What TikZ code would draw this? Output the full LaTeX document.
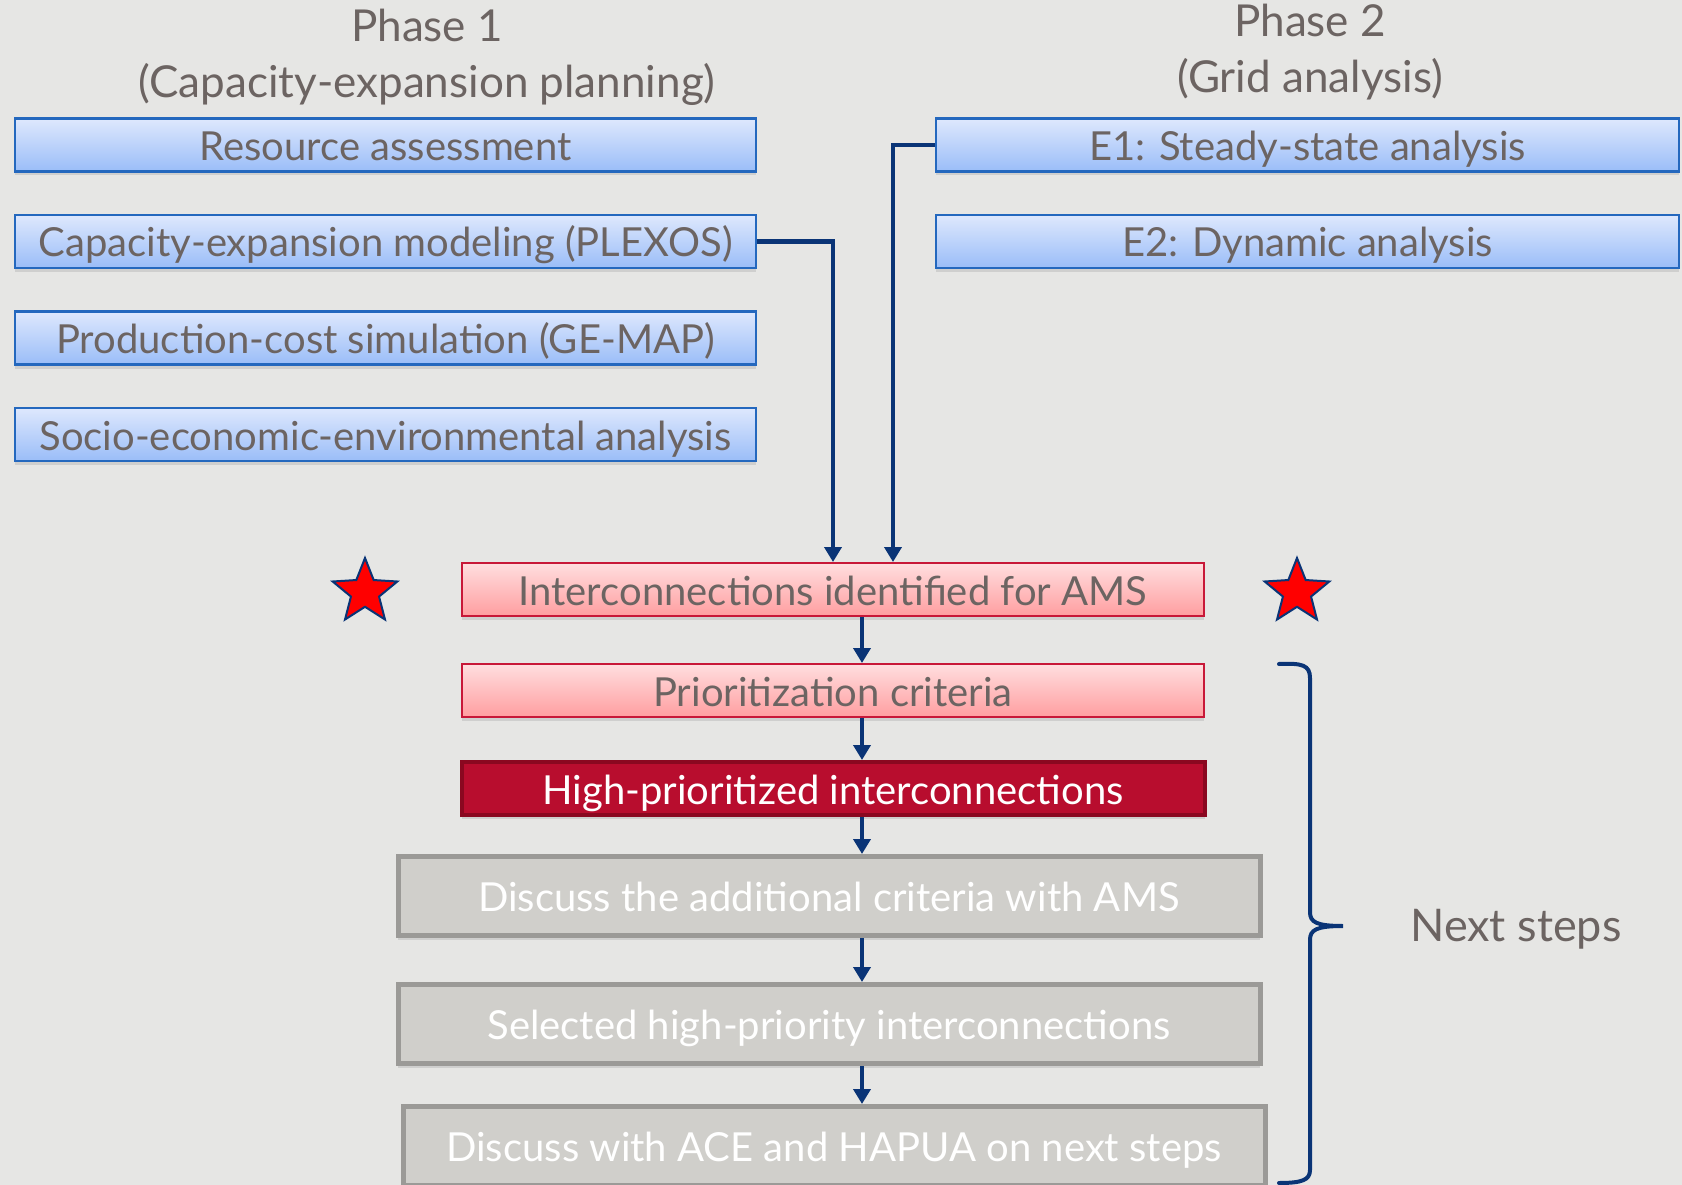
\documentclass[tikz,border=0pt]{standalone}
\usepackage{fontspec}
\setmainfont{Lato}
\usepackage{tikz}
\usetikzlibrary{shapes,arrows.meta,positioning,shadows}

\definecolor{slide}{RGB}{230,230,228}
\definecolor{ink}{RGB}{108,100,98}
\definecolor{navy}{RGB}{10,52,118}
\definecolor{bluetop}{RGB}{222,232,253}
\definecolor{bluebot}{RGB}{154,189,248}
\definecolor{blueline}{RGB}{36,104,190}
\definecolor{pinktop}{RGB}{255,222,223}
\definecolor{pinkbot}{RGB}{255,158,160}
\definecolor{pinkline}{RGB}{200,24,56}
\definecolor{deepred}{RGB}{184,13,46}
\definecolor{deepline}{RGB}{138,8,32}
\definecolor{greyfill}{RGB}{208,207,203}
\definecolor{greyline}{RGB}{155,154,151}

\begin{document}
\begin{tikzpicture}[
    x=1pt,y=-1pt,node distance=41pt,
  box/.style={rectangle,inner sep=0pt,minimum height=53pt,
    text height=31pt,text depth=0pt,text=ink,
    font=\fontsize{40}{44}\selectfont,
    drop shadow={shadow xshift=0pt,shadow yshift=-4pt,opacity=0.22}},
  bluebox/.style={box,minimum width=741pt,top color=bluetop,bottom color=bluebot,
    draw=blueline,line width=2.5pt},
  pinkbox/.style={box,minimum width=742pt,top color=pinktop,bottom color=pinkbot,
    draw=pinkline,line width=2pt},
  redbox/.style={box,minimum width=743pt,minimum height=53pt,fill=deepred,
    draw=deepline,line width=4pt,text=white},
  greybox/.style={box,minimum width=862pt,minimum height=79pt,fill=greyfill,
    draw=greyline,line width=5pt,text=white},
  phase/.style={anchor=base,text=ink,font=\fontsize{44}{48}\selectfont},
  redstar/.style={star,star points=5,star point ratio=2.3,minimum size=68pt,
    inner sep=0pt,fill=red,draw=navy,line width=2pt},
  flow/.style={draw=navy,line width=4.5pt,-{Triangle[width=17pt,length=15pt]}},
]

  \fill[slide] (0,0) rectangle (1682,1185);
  \useasboundingbox (0,0) rectangle (1682,1185);

  % headings
  \node[phase] (ph1) at (427,42) {Phase 1};
  \node[phase] (ph1sub) at (427,98) {(Capacity-expansion planning)};
  \node[phase] (ph2) at (1310,37) {Phase 2};
  \node[phase] (ph2sub) at (1310,93) {(Grid analysis)};

  % phase 1
  \node[bluebox] (res) at (385.5,145) {Resource assessment};
  \node[bluebox] (cap) [below=of res] {Capacity-expansion modeling (PLEXOS)};
  \node[bluebox] (prod) [below=of cap] {Production-cost simulation (GE-MAP)};
  \node[bluebox] (soc) [below=of prod] {Socio-economic-environmental analysis};

  % phase 2
  \node[bluebox,minimum width=743pt] (e1) at (1307.5,145) {E1: Steady-state analysis};
  \node[bluebox,minimum width=743pt] (e2) [below=of e1] {E2: Dynamic analysis};

  % main column
  \node[pinkbox] (ident) at (833,589.5) {Interconnections identified for AMS};
  \node[pinkbox] (prio) [below=46pt of ident] {Prioritization criteria};
  \node[redbox] (high) [below=42pt of prio] {High-prioritized interconnections};
  \node[greybox] (disc) [below=37pt of high, xshift=-4pt] {Discuss the additional criteria with AMS};
  \node[greybox] (sel) [below=44pt of disc] {Selected high-priority interconnections};
  \node[greybox] (ace) [below=38pt of sel, xshift=5pt] {Discuss with ACE and HAPUA on next steps};

  \node[redstar] (starL) at (365,592) {};
  \node[redstar] (starR) at (1297,592) {};

  \coordinate (spine) at (862,0);

  \draw[flow] (cap.east) -| (ident.north);
  \draw[flow] (e1.west) -| ([xshift=60pt]ident.north);

  \draw[flow] (ident.south -| spine) -- (prio.north -| spine);
  \draw[flow] (prio.south -| spine) -- (high.north -| spine);
  \draw[flow] (high.south -| spine) -- (disc.north -| spine);
  \draw[flow] (disc.south -| spine) -- (sel.north -| spine);
  \draw[flow] (sel.south -| spine) -- (ace.north -| spine);

  % brace
  \draw[navy,line width=4pt,line cap=round]
    (1279,664) .. controls (1302,663) and (1310,665) .. (1310,678)
    -- (1310,912) .. controls (1310,922) and (1316,926) .. (1343,926)
    .. controls (1316,926) and (1310,930) .. (1310,940)
    -- (1310,1170) .. controls (1310,1180) and (1302,1183) .. (1279,1183);
  \node[anchor=base,text=ink,font=\fontsize{45}{48}\selectfont] (next) at (1516,941) {Next steps};

\end{tikzpicture}
\end{document}
